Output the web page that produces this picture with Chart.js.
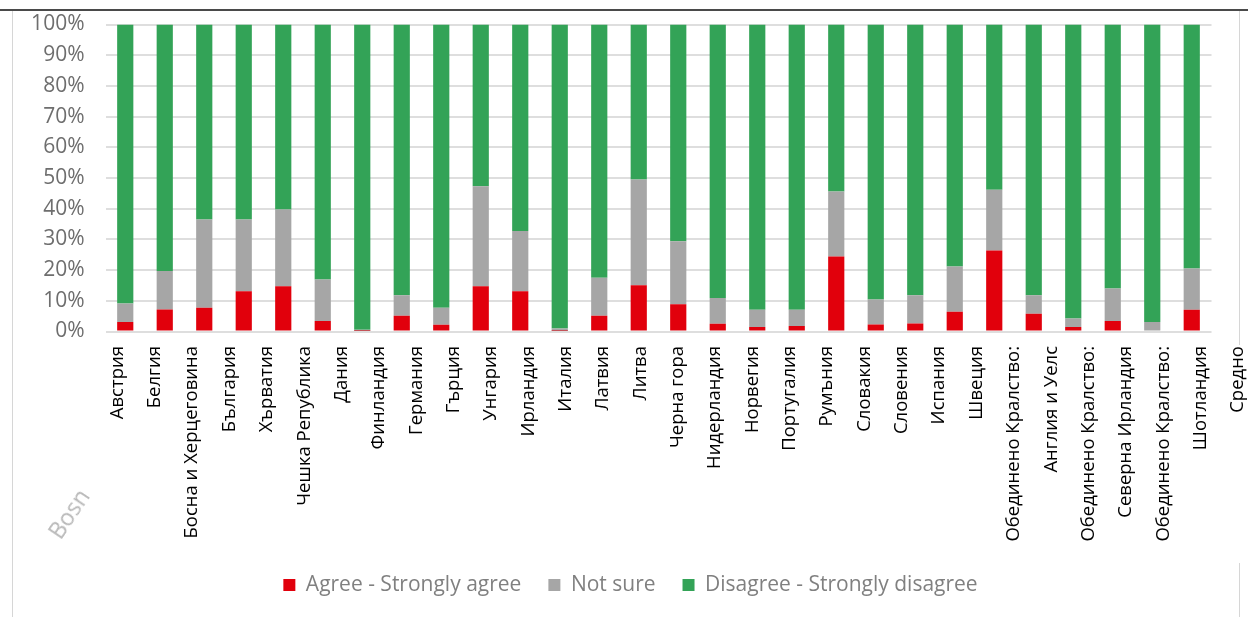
<!DOCTYPE html>
<html>
<head>
<meta charset="utf-8">
<script src="https://cdn.jsdelivr.net/npm/chart.js@4.4.1/dist/chart.umd.min.js"></script>
<style>
  html, body { margin: 0; padding: 0; background: #fff; }
  #wrap { position: relative; width: 1248px; height: 617px; overflow: hidden; background: #fff; }
  #chart { position: absolute; left: 0; top: 0; }
  .rule-top { position: absolute; left: 0; top: 9px; width: 1248px; height: 2px; background: #4a4a4a; }
  .rule-left { position: absolute; left: 12px; top: 11px; width: 1px; height: 606px; background: #d6d6d6; }
  .rule-right-a { position: absolute; left: 1239px; top: 11px; width: 1px; height: 334px; background: #d6d6d6; }
  .rule-right-b { position: absolute; left: 1239px; top: 563px; width: 1px; height: 54px; background: #d6d6d6; }
  .stray { position: absolute; left: 64px; top: 517px; font: 23px "Open Sans", sans-serif; color: #b8b8b8;
           transform: rotate(-56deg); transform-origin: left bottom; white-space: nowrap; line-height: 26px; }
</style>
</head>
<body>
<div id="wrap">
  <canvas id="chart" width="1248" height="617"></canvas>
  <div class="rule-top"></div>
  <div class="rule-left"></div>
  <div class="rule-right-a"></div>
  <div class="rule-right-b"></div>
  <div class="stray">Bosn</div>
</div>
<script>
// Countries (UK regions carry a two-part name)
const categories = [
  'Австрия', 'Белгия', 'Босна и Херцеговина', 'България', 'Хърватия', 'Чешка Република',
  'Дания', 'Финландия', 'Германия', 'Гърция', 'Унгария', 'Ирландия', 'Италия', 'Латвия',
  'Литва', 'Черна гора', 'Нидерландия', 'Норвегия', 'Португалия', 'Румъния', 'Словакия',
  'Словения', 'Испания', 'Швеция',
  ['Обединено Кралство:', 'Англия и Уелс'],
  ['Обединено Кралство:', 'Северна Ирландия'],
  ['Обединено Кралство:', 'Шотландия'],
  'Средно'
];

// Shares in percent
const agree = [3.1, 7.2, 7.7, 13.1, 14.7, 3.4, 0.2, 5.1, 2.2, 14.7, 13.1, 0.2, 5.1, 15.1,
               8.9, 2.5, 1.5, 1.8, 24.4, 2.3, 2.6, 6.4, 26.4, 5.8, 1.5, 3.4, 0, 7.1];
const notSure = [6.0, 12.5, 28.8, 23.4, 25.0, 13.5, 0.4, 6.7, 5.5, 32.6, 19.6, 0.8, 12.4, 34.4,
                 20.5, 8.4, 5.6, 5.3, 21.2, 8.1, 9.2, 14.8, 19.8, 6.0, 2.7, 10.6, 3.1, 13.4];
const disagree = [90.9, 80.3, 63.5, 63.5, 60.3, 83.1, 99.4, 88.2, 92.3, 52.7, 67.3, 99.0, 82.5, 50.5,
                  70.6, 89.1, 92.9, 92.9, 54.4, 89.6, 88.2, 78.8, 53.8, 88.2, 95.8, 86.0, 96.9, 79.5];

const seriesNames = ['Agree - Strongly agree', 'Not sure', 'Disagree - Strongly disagree'];

// Axis labels: each line of a name becomes its own label along the axis
const tickLabels = categories.flat();
const yTicks = [0, 10, 20, 30, 40, 50, 60, 70, 80, 90, 100];

const FONT = '"Open Sans", "DejaVu Sans", sans-serif';

new Chart(document.getElementById('chart'), {
  type: 'bar',
  data: {
    labels: categories,
    datasets: [
      { label: seriesNames[0], data: agree,    backgroundColor: '#e1000c', borderWidth: 0 },
      { label: seriesNames[1], data: notSure,  backgroundColor: '#a6a6a6', borderWidth: 0 },
      { label: seriesNames[2], data: disagree, backgroundColor: '#33a357', borderWidth: 0 }
    ]
  },
  options: {
    responsive: false,
    animation: false,
    devicePixelRatio: 1,
    layout: { padding: { left: 33, right: 20, top: 24.5, bottom: 11.5 } },
    datasets: { bar: { categoryPercentage: 1, barPercentage: 0.41 } },
    plugins: {
      tooltip: { enabled: false },
      legend: {
        position: 'bottom',
        labels: {
          boxWidth: 12, boxHeight: 12, padding: 27,
          color: '#808080',
          font: { family: FONT, size: 21 }
        }
      }
    },
    scales: {
      x: { stacked: true, display: false },
      xLabels: {
        type: 'linear',
        position: 'bottom',
        offset: false,
        bounds: 'data',
        min: -0.321,
        max: 29.29,
        grid: { display: false, drawTicks: false, offset: false },
        border: { display: false },
        afterBuildTicks: (scale) => { scale.ticks = tickLabels.map((_, i) => ({ value: i })); },
        afterFit: (scale) => { scale.paddingLeft = 0; scale.paddingRight = 0; scale.height = 216; },
        ticks: {
          autoSkip: false,
          minRotation: 90, maxRotation: 90,
          padding: 14.5,
          color: '#000',
          font: { family: FONT, size: 18.5 },
          callback: (v) => tickLabels[v]
        }
      },
      y: {
        stacked: true,
        min: 0, max: 100,
        afterBuildTicks: (scale) => { scale.ticks = yTicks.map(v => ({ value: v })); },
        afterFit: (scale) => { scale.width = 72.5; scale.paddingTop = 0; scale.paddingBottom = 0; },
        grid: { color: '#dedede', lineWidth: 2, drawTicks: false },
        border: { display: false },
        ticks: {
          padding: 21,
          color: '#6e6e6e',
          font: { family: FONT, size: 21 },
          callback: (v) => v + '%'
        }
      },
      yRight: {
        position: 'right',
        grid: { display: false, drawTicks: false },
        border: { display: false },
        ticks: { display: false },
        afterFit: (scale) => { scale.width = 16.5; scale.paddingTop = 0; scale.paddingBottom = 0; }
      }
    }
  }
});
</script>
</body>
</html>
